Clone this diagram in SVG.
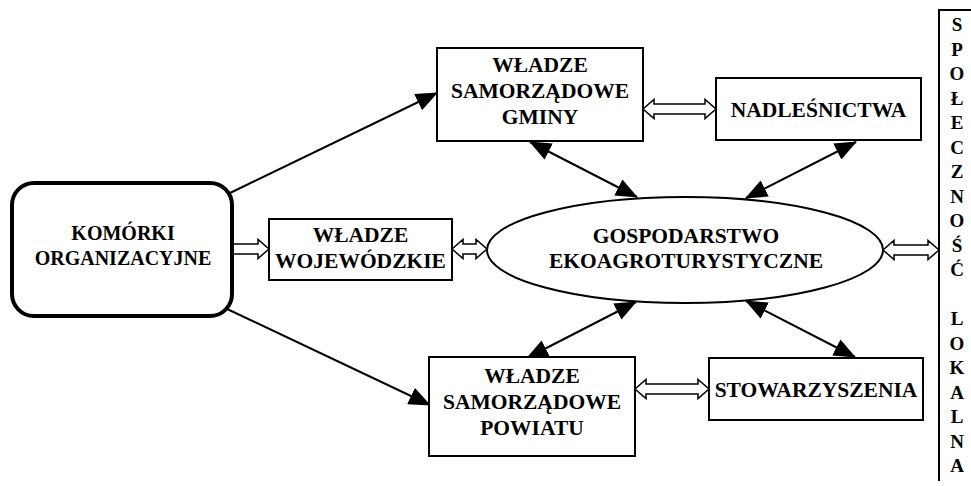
<svg xmlns="http://www.w3.org/2000/svg" width="971" height="486" viewBox="0 0 971 486">
<style>
.box{fill:#fff;stroke:#000;stroke-width:2}
.rbox{fill:#fff;stroke:#000;stroke-width:4}
.t{font-family:"Liberation Serif","Times New Roman",serif;font-weight:bold;font-size:21.5px;fill:#000;text-anchor:middle}
.k{font-size:20px}
.v{font-family:"Liberation Serif","Times New Roman",serif;font-weight:bold;font-size:19px;fill:#000;text-anchor:middle}
.ln{fill:none;stroke:#000;stroke-width:2}
.ha{fill:#fff;stroke:#000;stroke-width:1.5;stroke-linejoin:miter}
</style>
<defs>
<marker id="ah" markerUnits="userSpaceOnUse" markerWidth="22" markerHeight="18" refX="21" refY="9" orient="auto-start-reverse" viewBox="0 0 22 18">
<path d="M0,0 L22,9 L0,18 z" fill="#000"/>
</marker>
</defs>

<g id="connectors">
<line class="ln" x1="230" y1="193" x2="437" y2="93" marker-end="url(#ah)"/>
<line class="ln" x1="225" y1="308" x2="430" y2="405" marker-end="url(#ah)"/>
<line class="ln" x1="530" y1="142" x2="637" y2="197" marker-start="url(#ah)" marker-end="url(#ah)"/>
<line class="ln" x1="856" y1="142" x2="746" y2="198" marker-start="url(#ah)" marker-end="url(#ah)"/>
<line class="ln" x1="527" y1="358" x2="636" y2="302" marker-start="url(#ah)" marker-end="url(#ah)"/>
<line class="ln" x1="855" y1="357" x2="746" y2="301" marker-start="url(#ah)" marker-end="url(#ah)"/>
<polygon class="ha" points="232,244 258,244 258,239.5 269,249 258,258.5 258,254 232,254"/>
<polygon class="ha" points="643,109 654,99.5 654,104 705,104 705,99.5 716,109 705,118.5 705,114 654,114 654,118.5"/>
<polygon class="ha" points="452,249 463,239.5 463,244 476,244 476,239.5 487,249 476,258.5 476,254 463,254 463,258.5"/>
<polygon class="ha" points="883,250 894,240.5 894,245 928,245 928,240.5 939,250 928,259.5 928,255 894,255 894,259.5"/>
<polygon class="ha" points="635,389 646,379.5 646,384 698,384 698,379.5 709,389 698,398.5 698,394 646,394 646,398.5"/>
</g>

<g id="komorki">
<rect class="rbox" x="12" y="183" width="220" height="133" rx="22" ry="22"/>
<text class="t k" x="123" y="240">KOMÓRKI</text>
<text class="t k" x="123" y="265">ORGANIZACYJNE</text>
</g>

<g id="gminy">
<rect class="box" x="437" y="48" width="206" height="93"/>
<text class="t" x="540" y="72">WŁADZE</text>
<text class="t" x="540" y="98">SAMORZĄDOWE</text>
<text class="t" x="540" y="124">GMINY</text>
</g>

<g id="nadlesnictwa">
<rect class="box" x="716" y="78" width="205" height="62"/>
<text class="t" x="818.5" y="117">NADLEŚNICTWA</text>
</g>

<g id="wojewodzkie">
<rect class="box" x="269" y="219" width="183" height="61"/>
<text class="t" x="360.5" y="242">WŁADZE</text>
<text class="t" x="360.5" y="268">WOJEWÓDZKIE</text>
</g>

<g id="gospodarstwo">
<ellipse class="box" cx="685" cy="250" rx="198" ry="53"/>
<text class="t" x="686" y="243">GOSPODARSTWO</text>
<text class="t" x="686" y="268">EKOAGROTURYSTYCZNE</text>
</g>

<g id="powiatu">
<rect class="box" x="429" y="357" width="206" height="99"/>
<text class="t" x="532" y="383">WŁADZE</text>
<text class="t" x="532" y="409">SAMORZĄDOWE</text>
<text class="t" x="532" y="435">POWIATU</text>
</g>

<g id="stowarzyszenia">
<rect class="box" x="709" y="358" width="214" height="62"/>
<text class="t" x="816" y="397">STOWARZYSZENIA</text>
</g>

<g id="spolecznosc">
<path class="ln" d="M972,10 H939 V481"/>
<text class="v" x="957" y="31">S</text>
<text class="v" x="957" y="55.5">P</text>
<text class="v" x="957" y="80">O</text>
<text class="v" x="957" y="104.5">Ł</text>
<text class="v" x="957" y="129">E</text>
<text class="v" x="957" y="153.5">C</text>
<text class="v" x="957" y="178">Z</text>
<text class="v" x="957" y="202.5">N</text>
<text class="v" x="957" y="227">O</text>
<text class="v" x="957" y="251.5">Ś</text>
<text class="v" x="957" y="276">Ć</text>
<text class="v" x="957" y="325">L</text>
<text class="v" x="957" y="349.5">O</text>
<text class="v" x="957" y="374">K</text>
<text class="v" x="957" y="398.5">A</text>
<text class="v" x="957" y="423">L</text>
<text class="v" x="957" y="447.5">N</text>
<text class="v" x="957" y="472">A</text>
</g>
</svg>
